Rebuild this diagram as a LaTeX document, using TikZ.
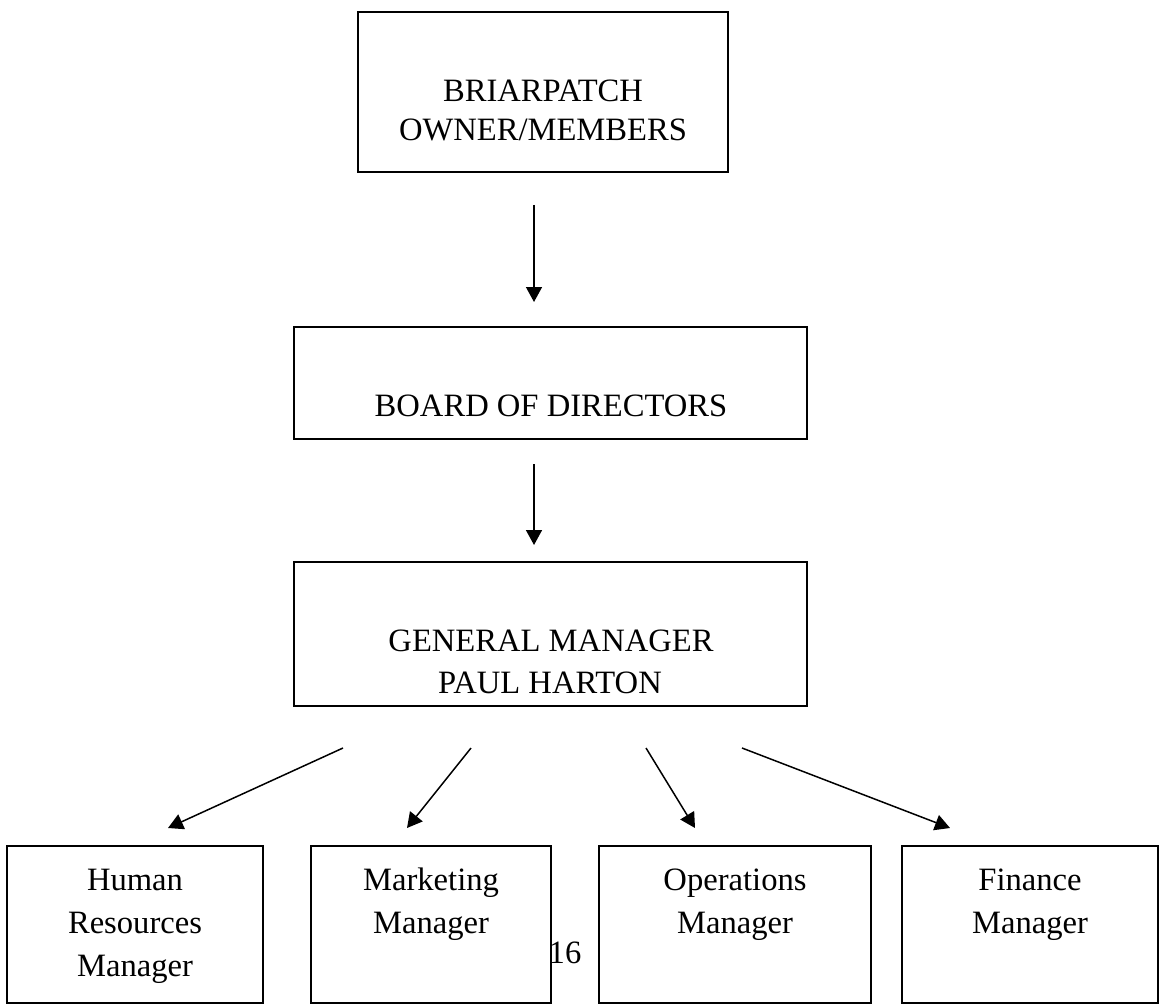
\documentclass[tikz,border=0pt]{standalone}
\usepackage{fontspec}
\setmainfont{Liberation Serif}
\usetikzlibrary{arrows.meta}
\begin{document}
\begin{tikzpicture}[x=0.5pt,y=-0.5pt,
  box/.style={draw, line width=1pt, inner sep=0pt},
  lbl/.style={anchor=base, inner sep=0pt, font=\fontsize{16.3}{19}\selectfont},
  conn/.style={line width=0.75pt, -{Triangle[length=7.5pt,width=8pt]}}]
\useasboundingbox (0,0) rectangle (1159,1005);

% boxes
\node[box, minimum width=185pt, minimum height=80pt] (owners) at (543,92) {};
\node[box, minimum width=256.5pt, minimum height=56pt] (board) at (550.5,383) {};
\node[box, minimum width=256.5pt, minimum height=72pt] (gm) at (550.5,634) {};
\node[box, minimum width=128pt, minimum height=78.5pt] (hr) at (135,924.5) {};
\node[box, minimum width=120pt, minimum height=78.5pt] (mkt) at (431,924.5) {};
\node[box, minimum width=136pt, minimum height=78.5pt] (ops) at (735,924.5) {};
\node[box, minimum width=128pt, minimum height=78.5pt] (fin) at (1030,924.5) {};

% labels
\node[lbl] (owners1) at (543,102) {BRIARPATCH};
\node[lbl] (owners2) at (543,141) {OWNER/MEMBERS};
\node[lbl] (board1) at (551,416) {BOARD OF DIRECTORS};
\node[lbl] (gm1) at (551,651) {GENERAL MANAGER};
\node[lbl] (gm2) at (550,693) {PAUL HARTON};
\node[lbl] (hr1) at (135,890) {Human};
\node[lbl] (hr2) at (135,933) {Resources};
\node[lbl] (hr3) at (135,976) {Manager};
\node[lbl] (mkt1) at (431,890) {Marketing};
\node[lbl] (mkt2) at (431,933) {Manager};
\node[lbl] (ops1) at (735,890) {Operations};
\node[lbl] (ops2) at (735,933) {Manager};
\node[lbl] (fin1) at (1030,890) {Finance};
\node[lbl] (fin2) at (1030,933) {Manager};
\node[lbl] (page) at (565,963) {16};

% connector end points
\coordinate (a1s) at (534,205);  \coordinate (a1e) at (534,302);
\coordinate (a2s) at (534,464);  \coordinate (a2e) at (534,545);
\coordinate (a3s) at (343,748);  \coordinate (a3e) at (168,828);
\coordinate (a4s) at (471,748);  \coordinate (a4e) at (407,828);
\coordinate (a5s) at (646,748);  \coordinate (a5e) at (695,828);
\coordinate (a6s) at (742,748);  \coordinate (a6e) at (950,828);

\draw[conn] (a1s) -- (a1e);
\draw[conn] (a2s) -- (a2e);
\draw[conn] (a3s) -- (a3e);
\draw[conn] (a4s) -- (a4e);
\draw[conn] (a5s) -- (a5e);
\draw[conn] (a6s) -- (a6e);
\end{tikzpicture}
\end{document}
